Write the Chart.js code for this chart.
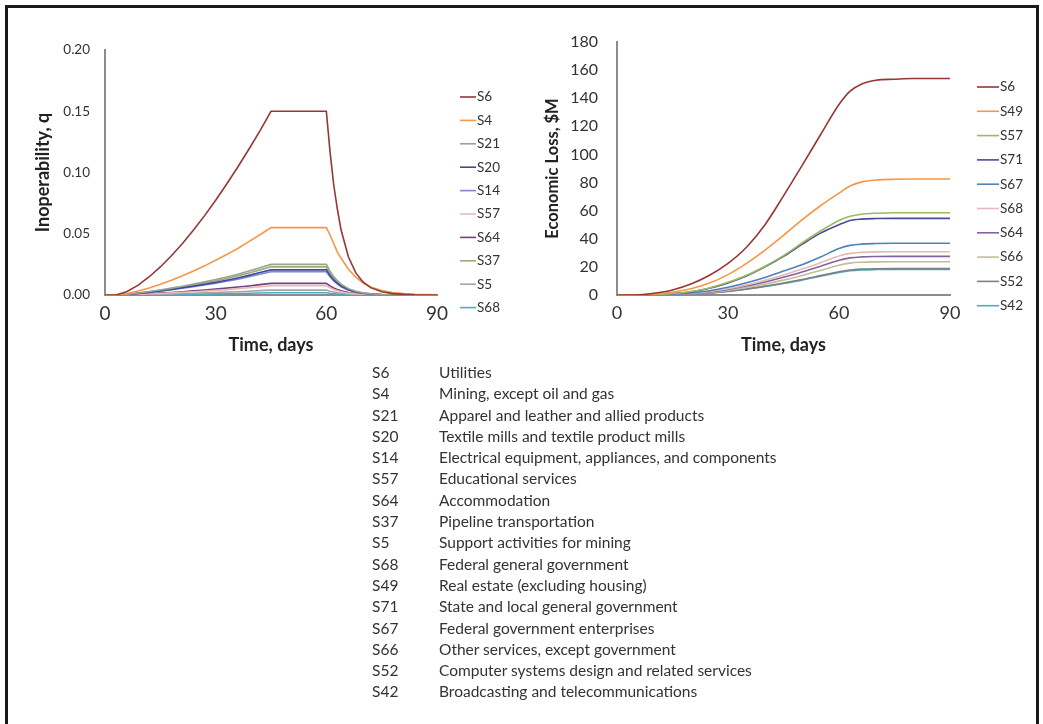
<!DOCTYPE html>
<html>
<head>
<meta charset="utf-8">
<script src="https://cdn.jsdelivr.net/npm/chart.js@4.4.1/dist/chart.umd.min.js"></script>
<style>
  body { margin: 0; background: #fff; font-family: Lato, "Open Sans", sans-serif; }
  #frame { position: absolute; left: 5px; top: 5px; width: 1034px; height: 740px; border: 3px solid #1a1a1a; box-sizing: border-box; }
  #left { position: absolute; left: 0; top: 0; }
  #right { position: absolute; left: 520px; top: 0; }
  #codes { position: absolute; left: 372px; top: 362px; font-size: 15.5px; color: #333; line-height: 21.3px; }
  #codes div { white-space: nowrap; }
  #codes span { display: inline-block; width: 67px; }
</style>
</head>
<body>
<div id="frame"></div>
<canvas id="left" width="520" height="370"></canvas>
<canvas id="right" width="523" height="370"></canvas>
<div id="codes"></div>
<script>
// left panel: inoperability over time
const daysL = [0,3,6,9,12,15,18,21,24,27,30,33,36,39,42,45,60,61,62,63,64,66,68,70,72,75,78,81,84,90]
const namesL = ['S6','S4','S21','S20','S14','S57','S64','S37','S5','S68']
const colorsL = ['#953735','#F79646','#9AA58E','#3E4A98','#7D87D2','#E6B9B8','#7A3E7E','#A3A97C','#A5A5A5','#4BACC6']
const qS6  = [0,0,0.0029,0.008,0.0149,0.0229,0.032,0.042,0.053,0.0648,0.0773,0.0906,0.1045,0.119,0.134,0.150, 0.150,0.117,0.090,0.070,0.053,0.031,0.018,0.0104,0.006,0.0026,0.0011,0.0005,0.0002,0]
const qS4  = [0,0,0.0012,0.0032,0.0058,0.0088,0.0121,0.0157,0.0196,0.0238,0.0283,0.033,0.038,0.0436,0.0492,0.055, 0.055,0.049,0.042,0.035,0.030,0.021,0.0145,0.0098,0.0066,0.0037,0.002,0.0011,0.0006,0.0002]
const qS21 = [0,0,0.0006,0.0016,0.0028,0.0041,0.0056,0.0072,0.0089,0.0107,0.0126,0.0147,0.017,0.0196,0.0223,0.025, 0.025,0.0195,0.015,0.0117,0.0089,0.0052,0.003,0.0017,0.001,0.0004,0.0002,0.0001,0,0]
const qS20 = [0,0,0.0005,0.0013,0.0023,0.0034,0.0046,0.0059,0.0073,0.0088,0.0103,0.012,0.0139,0.016,0.0183,0.0205, 0.0205,0.016,0.0123,0.0096,0.0073,0.0042,0.0025,0.0014,0.0008,0.0003,0.0001,0.0001,0,0]
const qS14 = [0,0,0.0004,0.0012,0.0021,0.0031,0.0043,0.0055,0.0068,0.0081,0.0096,0.0112,0.0129,0.0149,0.017,0.019, 0.019,0.0148,0.0114,0.0089,0.0067,0.0039,0.0023,0.0013,0.0008,0.0003,0.0001,0,0,0]
const qS57 = [0,0,0.0002,0.0005,0.0008,0.0012,0.0017,0.0022,0.0027,0.0032,0.0038,0.0044,0.0051,0.0059,0.0067,0.0075, 0.0075,0.0059,0.0045,0.0035,0.0027,0.0015,0.0009,0.0005,0.0003,0.0001,0,0,0,0]
const qS64 = [0,0,0.0002,0.0006,0.0011,0.0016,0.0021,0.0027,0.0034,0.0041,0.0048,0.0056,0.0065,0.0074,0.0085,0.0095, 0.0095,0.0074,0.0057,0.0044,0.0034,0.002,0.0011,0.0007,0.0004,0.0002,0.0001,0,0,0]
const qS37 = [0,0,0.0005,0.0015,0.0026,0.0038,0.0052,0.0066,0.0082,0.0098,0.0116,0.0135,0.0156,0.018,0.0205,0.023, 0.023,0.018,0.0138,0.0107,0.0082,0.0047,0.0028,0.0016,0.0009,0.0004,0.0002,0.0001,0,0]
const qS5  = [0,0,0.0001,0.0002,0.0004,0.0006,0.0009,0.0012,0.0014,0.0017,0.002,0.0024,0.0027,0.0031,0.0036,0.004, 0.004,0.0031,0.0024,0.0019,0.0014,0.0008,0.0005,0.0003,0.0002,0.0001,0,0,0,0]
const qS68 = [0,0,0,0.0001,0.0002,0.0003,0.0004,0.0005,0.0006,0.0008,0.0009,0.0011,0.0012,0.0014,0.0016,0.0018, 0.0018,0.0014,0.0011,0.0008,0.0006,0.0004,0.0002,0.0001,0.0001,0,0,0,0,0]
const valuesL = [qS6,qS4,qS21,qS20,qS14,qS57,qS64,qS37,qS5,qS68]

// right panel: cumulative economic loss, $M
const daysR = [0,5,10,15,20,25,30,35,40,45,50,55,60,63,66,70,75,80,85,90]
const namesR = ['S6','S49','S57','S71','S67','S68','S64','S66','S52','S42']
const colorsR = ['#953735','#F79646','#9BBB59','#4B4B9B','#4F81BD','#E6B9B8','#8064A2','#C4BD97','#7F7F7F','#4BACC6']
const lS6  = [0,0,1.2,3.6,7.8,14,22.5,34,50,70.5,92,114,135.5,145,150,152.8,153.5,154,154,154]
const lS49 = [0,0,0.6,2,4.5,8.5,14.5,22.5,32,42.5,53.5,63.5,72.5,77.5,80.3,81.8,82.3,82.5,82.5,82.5]
const lS57 = [0,0,0.3,1,2.5,5,9,14,20.5,28,37,45.5,53,56,57.5,58.2,58.5,58.5,58.5,58.5]
const lS71 = [0,0,0.3,1,2.3,4.8,8.6,13.5,20,27.5,36,44,50,53,54,54.4,54.5,54.5,54.5,54.5]
const lS67 = [0,0,0.2,0.6,1.5,3,5.5,8.7,12.5,17,21.5,27,33,35.3,36.2,36.6,36.8,36.8,36.8,36.8]
const lS68 = [0,0,0.1,0.5,1.2,2.5,4.5,7.2,10.5,14.2,18.5,23,27.8,29.6,30.3,30.7,30.8,30.8,30.8,30.8]
const lS64 = [0,0,0.1,0.4,1.1,2.2,4,6.4,9.3,12.6,16.4,20.5,24.7,26.4,27.1,27.4,27.5,27.5,27.5,27.5]
const lS66 = [0,0,0.1,0.3,0.9,1.8,3.3,5.3,7.8,10.6,13.9,17.5,21.2,22.7,23.3,23.6,23.7,23.7,23.7,23.7]
const lS52 = [0,0,0.1,0.3,0.7,1.5,2.7,4.3,6.3,8.5,11,13.8,16.6,17.8,18.4,18.7,18.8,18.8,18.8,18.8]
const lS42 = [0,0,0.1,0.3,0.7,1.4,2.6,4.1,6,8.2,10.6,13.3,16,17.2,17.8,18.1,18.2,18.2,18.2,18.2]
const valuesR = [lS6,lS49,lS57,lS71,lS67,lS68,lS64,lS66,lS52,lS42]

const sectorCodes = ['S6','S4','S21','S20','S14','S57','S64','S37','S5','S68','S49','S71','S67','S66','S52','S42']
const sectorNames = ['Utilities','Mining, except oil and gas','Apparel and leather and allied products',
  'Textile mills and textile product mills','Electrical equipment, appliances, and components',
  'Educational services','Accommodation','Pipeline transportation','Support activities for mining',
  'Federal general government','Real estate (excluding housing)','State and local general government',
  'Federal government enterprises','Other services, except government',
  'Computer systems design and related services','Broadcasting and telecommunications']

const FONT = 'Lato, "Open Sans", sans-serif'

function makeSets(days, names, colors, values, smooth) {
  return names.map(function(name, i) {
    return {
      label: name,
      data: days.map((d, j) => ({ x: d, y: values[i][j] })),
      borderColor: colors[i],
      backgroundColor: colors[i],
      borderWidth: 1.6,
      pointRadius: 0,
      tension: smooth ? 0.4 : 0,
      cubicInterpolationMode: smooth ? 'monotone' : 'default'
    }
  })
}

// simple line-sample legend at fixed spot
function sideLegend(x, y0, step, len) {
  return {
    id: 'sideLegend',
    afterDraw(chart) {
      const ctx = chart.ctx
      ctx.save()
      ctx.font = '13.5px ' + FONT
      ctx.textBaseline = 'middle'
      chart.data.datasets.forEach(function(ds, i) {
        const y = y0 + i * step
        ctx.strokeStyle = ds.borderColor
        ctx.lineWidth = 1.6
        ctx.beginPath()
        ctx.moveTo(x, y)
        ctx.lineTo(x + len, y)
        ctx.stroke()
        ctx.fillStyle = '#333'
        ctx.fillText(ds.label, x + len + 1, y)
      })
      ctx.restore()
    }
  }
}

function makeChart(id, sets, opt) {
  return new Chart(document.getElementById(id), {
    type: 'line',
    data: { datasets: sets },
    options: {
      responsive: false,
      animation: false,
      layout: { padding: { top: opt.top, right: opt.right, left: 0, bottom: 0 } },
      plugins: { legend: { display: false }, tooltip: { enabled: false } },
      scales: {
        x: {
          type: 'linear', min: 0, max: 90,
          ticks: { stepSize: 30, color: '#333', font: { family: FONT, size: opt.xTick }, padding: 7 },
          grid: { display: false, drawTicks: false },
          border: { color: '#8c8c8c', width: 2 },
          title: { display: true, text: 'Time, days', color: '#222', font: { family: FONT, size: 18, weight: 'bold' }, padding: { top: 0, bottom: 14 } },
          afterFit(s) { s.height = 75 }
        },
        y: {
          min: opt.yMin, max: opt.yMax,
          ticks: { stepSize: opt.yStep, color: '#333', font: { family: FONT, size: opt.yTick }, padding: opt.yPad,
            callback: opt.yFmt },
          grid: { display: false, drawTicks: false },
          border: { color: '#8c8c8c', width: 2 },
          title: { display: true, text: opt.yTitle, color: '#222', font: { family: FONT, size: opt.yTitleSize, weight: 'bold' }, padding: { top: opt.titlePad, bottom: 0 } },
          afterFit(s) { s.width = opt.yWidth }
        }
      }
    },
    plugins: [sideLegend(opt.legX, opt.legY, opt.legStep, opt.legLen)]
  })
}

makeChart('left', makeSets(daysL, namesL, colorsL, valuesL, false), {
  top: 50, right: 83, xTick: 19, yTick: 13.5, yPad: 15, yWidth: 105, titlePad: 32, yTitleSize: 18,
  yMin: 0, yMax: 0.2, yStep: 0.05, yFmt: v => v.toFixed(2), yTitle: 'Inoperability, q',
  legX: 460, legY: 97, legStep: 23.4, legLen: 16
})

makeChart('right', makeSets(daysR, namesR, colorsR, valuesR, true), {
  top: 42, right: 93, xTick: 18, yTick: 16, yPad: 19, yWidth: 97, titlePad: 23, yTitleSize: 16.5,
  yMin: 0, yMax: 180, yStep: 20, yFmt: v => v, yTitle: 'Economic Loss, $M',
  legX: 457, legY: 87, legStep: 24.3, legLen: 22
})

const codes = document.getElementById('codes')
sectorCodes.forEach(function(c, i) {
  const row = document.createElement('div')
  row.innerHTML = '<span>' + c + '</span>' + sectorNames[i]
  codes.appendChild(row)
})
</script>
</body>
</html>
